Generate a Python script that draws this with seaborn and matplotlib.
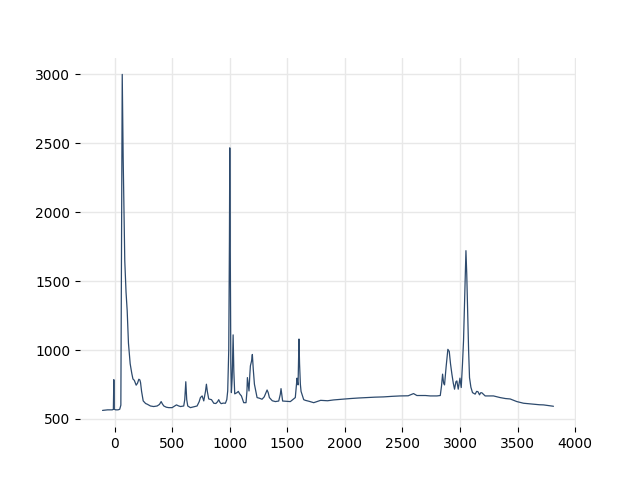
import matplotlib
matplotlib.use("Agg")
import matplotlib.pyplot as plt
import seaborn as sns
import pandas as pd

shift = [-104, -60, -20, -10, -6, -2, 10, 30, 45, 55, 62, 67, 75, 89, 100, 110, 121, 136, 150, 160,
         172, 188, 200, 211, 220, 226, 235, 249, 270, 284, 312, 340, 370, 390, 405, 415, 428, 450,
         471, 500, 525, 538, 555, 573, 601, 610, 619, 627, 636, 659, 690, 717, 735, 746, 761, 775,
         790, 798, 806, 818, 842, 862, 880, 895, 905, 916, 926, 945, 963, 975, 983, 992, 998, 1001,
         1005, 1010, 1015, 1022, 1030, 1036, 1044, 1064, 1075, 1087, 1102, 1122, 1142, 1150, 1154,
         1160, 1168, 1175, 1180, 1190, 1197, 1205, 1215, 1238, 1260, 1281, 1300, 1315, 1325, 1335,
         1345, 1370, 1397, 1426, 1440, 1446, 1452, 1460, 1490, 1527, 1570, 1585, 1590, 1594, 1598,
         1602, 1607, 1614, 1620, 1628, 1643, 1657, 1690, 1730, 1790, 1850, 1903, 1960, 2048, 2120,
         2192, 2260, 2337, 2410, 2481, 2550, 2597, 2626, 2700, 2742, 2800, 2829, 2840, 2849, 2858,
         2866, 2880, 2895, 2907, 2918, 2930, 2942, 2953, 2965, 2973, 2985, 3000, 3011, 3022, 3031,
         3042, 3052, 3059, 3066, 3075, 3083, 3095, 3109, 3132, 3145, 3156, 3170, 3180, 3190, 3219,
         3262, 3291, 3349, 3395, 3436, 3494, 3552, 3600, 3639, 3690, 3725, 3770, 3812]

intensity = [562, 566, 566, 570, 785, 570, 566, 566, 570, 600, 2000, 3000, 2400, 1648, 1420, 1285, 1050, 900, 830, 790,
             780, 745, 760, 788, 783, 764, 700, 631, 612, 607, 594, 590, 594, 605, 626, 610, 594, 585,
             582, 582, 595, 602, 595, 590, 594, 640, 770, 640, 594, 582, 588, 594, 625, 655, 667, 631,
             700, 752, 700, 645, 640, 614, 612, 625, 640, 620, 611, 615, 614, 640, 703, 1000, 1800, 2467,
             1700, 900, 691, 800, 1110, 850, 682, 691, 700, 682, 667, 618, 618, 700, 800,
             760, 703, 820, 885, 920, 968, 860, 752, 655, 650, 643, 660, 690, 710, 690,
             655, 632, 626, 630, 680, 720, 680, 630, 628, 626, 655, 796, 760, 747, 900,
             1080, 900, 752, 700, 680, 640, 635, 628, 618, 635, 632, 638, 642, 648, 652,
             655, 658, 660, 664, 667, 668, 684, 670, 670, 667, 667, 670, 740, 825, 760,
             747, 880, 1005, 990, 900, 825, 760, 716, 770, 776, 716, 796, 728, 900, 1067,
             1400, 1721, 1550, 1309, 1000, 800, 730, 691, 680, 700, 698, 675, 690, 690, 667,
             667, 667, 655, 648, 645, 626, 614, 610, 607, 603, 602, 597, 592]

df = pd.DataFrame({"shift": shift, "intensity": intensity})

sns.set_style("whitegrid", {
    "grid.color": "#e8e8e8",
    "xtick.bottom": True,
    "ytick.left": True,
    "xtick.color": "black",
    "ytick.color": "black",
    "text.color": "black",
    "axes.labelcolor": "black",
})
plt.rcParams["font.family"] = ["DejaVu Sans"]

fig, ax = plt.subplots(figsize=(6.4, 4.8), dpi=100)
sns.lineplot(data=df, x="shift", y="intensity", ax=ax, color="#2d4a6d", linewidth=0.9)
ax.set_xlabel("")
ax.set_ylabel("")
ax.set_xticks([0, 500, 1000, 1500, 2000, 2500, 3000, 3500, 4000])
ax.set_yticks([500, 1000, 1500, 2000, 2500, 3000])
ax.tick_params(length=3.5, width=0.8, labelsize=10)
ax.grid(True, linewidth=1.0)
sns.despine(ax=ax, left=True, bottom=True)
fig.savefig("out.png", dpi=100)
